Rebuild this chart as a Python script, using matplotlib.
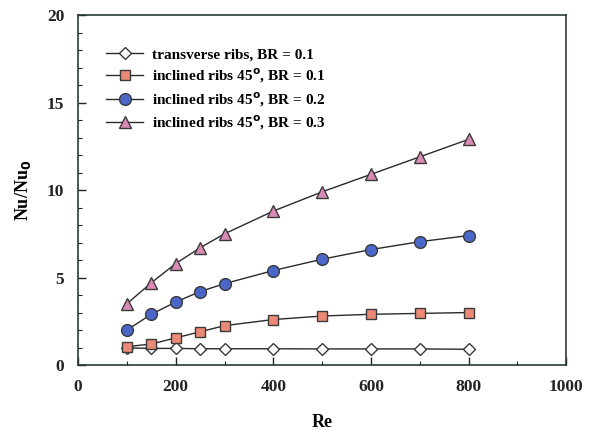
import matplotlib
matplotlib.use("Agg")
import matplotlib.pyplot as plt
from matplotlib.ticker import MultipleLocator

plt.rcParams['font.family'] = ['Liberation Serif', 'DejaVu Serif']
plt.rcParams['font.weight'] = 'bold'

re_vals = [100, 150, 200, 250, 300, 400, 500, 600, 700, 800]
transverse_01 = [0.98, 0.95, 0.95, 0.93, 0.93, 0.93, 0.92, 0.92, 0.92, 0.90]
inclined_01 = [1.05, 1.2, 1.55, 1.9, 2.25, 2.6, 2.8, 2.9, 2.95, 3.0]
inclined_02 = [2.0, 2.9, 3.6, 4.2, 4.65, 5.4, 6.05, 6.6, 7.05, 7.4]
inclined_03 = [3.5, 4.7, 5.8, 6.7, 7.5, 8.8, 9.9, 10.9, 11.9, 12.9]

labels = ["transverse ribs, BR = 0.1",
          "inclined ribs 45$^\\mathbf{o}$, BR = 0.1",
          "inclined ribs 45$^\\mathbf{o}$, BR = 0.2",
          "inclined ribs 45$^\\mathbf{o}$, BR = 0.3"]

fig = plt.figure(figsize=(5.96, 4.33), dpi=100)
ax = fig.add_axes([0.131, 0.157, 0.819, 0.808])

common = dict(color='#2a2a2a', lw=1.0, markeredgecolor='#3a3a3a', markeredgewidth=1.0)
ax.plot(re_vals, transverse_01, marker='D', ms=6, markerfacecolor='white', label=labels[0], **common)
ax.plot(re_vals, inclined_01, marker='s', ms=7, markerfacecolor='#ec8a78', label=labels[1], **common)
ax.plot(re_vals, inclined_02, marker='o', ms=8.5, markerfacecolor='#4a66c8', label=labels[2], **common)
ax.plot(re_vals, inclined_03, marker='^', ms=8, markerfacecolor='#d98bb5', label=labels[3], **common)

ax.set_xlim(0, 1000)
ax.set_ylim(0, 20)
ax.xaxis.set_major_locator(MultipleLocator(200))
ax.xaxis.set_minor_locator(MultipleLocator(100))
ax.yaxis.set_major_locator(MultipleLocator(5))
ax.yaxis.set_minor_locator(MultipleLocator(1))
ax.tick_params(axis='both', which='both', direction='in', top=False, right=False,
               labelsize=12.5, colors='#222222')
ax.tick_params(axis='both', which='major', length=6, width=1.0, pad=10)
ax.tick_params(axis='both', which='minor', length=3, width=0.8)
for lab in ax.get_xticklabels() + ax.get_yticklabels():
    lab.set_fontweight('bold')
for sp in ax.spines.values():
    sp.set_linewidth(1.2)
    sp.set_color('#2a3a3a')

ax.set_xlabel('Re', fontsize=13, fontweight='bold', labelpad=14)
ax.set_ylabel('Nu/Nu$_\\mathbf{0}$', fontsize=13, fontweight='bold', labelpad=10)

ax.legend(loc='upper left', bbox_to_anchor=(0.03, 0.945), frameon=False,
          handlelength=2.4, handletextpad=0.6, labelspacing=0.32,
          prop={'weight': 'bold', 'size': 11})

fig.savefig('out.png', dpi=100, facecolor='white')
